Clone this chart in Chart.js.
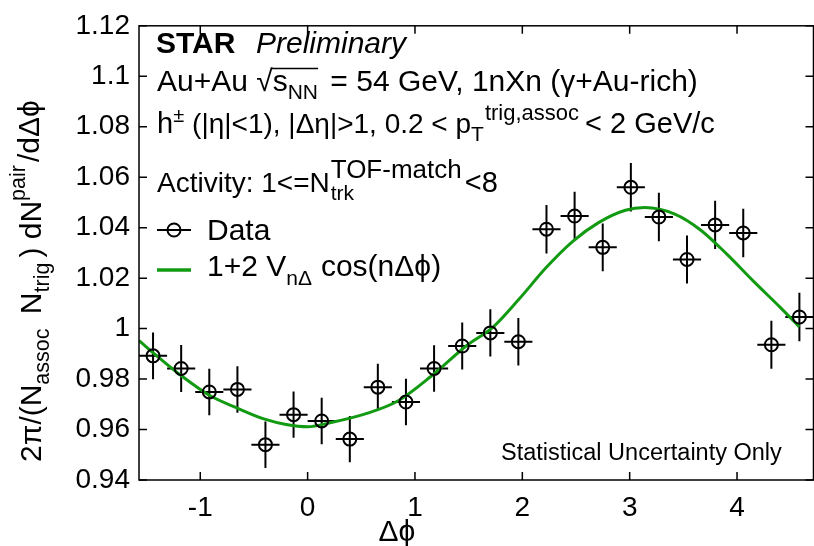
<!DOCTYPE html>
<html>
<head>
<meta charset="utf-8">
<script src="https://cdn.jsdelivr.net/npm/chart.js@4.4.1/dist/chart.umd.min.js"></script>
<style>
  html, body { margin: 0; padding: 0; background: #fff; overflow: hidden; }
  #wrap { width: 822px; height: 546px; }
</style>
</head>
<body>
<div id="wrap"><canvas id="c" width="822" height="546"></canvas></div>
<script>
// ---- data ----
const binCenters = [-1.440, -1.178, -0.916, -0.654, -0.393, -0.131, 0.131, 0.393, 0.654, 0.916, 1.178, 1.440,
                    1.702, 1.963, 2.225, 2.487, 2.749, 3.011, 3.272, 3.534, 3.796, 4.058, 4.320, 4.581];
const dataValues = [0.9892, 0.9842, 0.9749, 0.9759, 0.9540, 0.9659, 0.9634, 0.9562, 0.9768, 0.9709, 0.9842, 0.9931,
                    0.9983, 0.9948, 1.0394, 1.0446, 1.0322, 1.0560, 1.0442, 1.0274, 1.0411, 1.0379, 0.9936, 1.0046];
const dataErrors = [0.0093, 0.0093, 0.0092, 0.0092, 0.0092, 0.0092, 0.0092, 0.0092, 0.0093, 0.0092, 0.0092, 0.0093,
                    0.0094, 0.0094, 0.0096, 0.0096, 0.0095, 0.0096, 0.0096, 0.0095, 0.0096, 0.0096, 0.0095, 0.0096];
const binHalfWidths = [0.131, 0.131, 0.131, 0.131, 0.131, 0.131, 0.131, 0.131, 0.131, 0.131, 0.131, 0.131,
                       0.131, 0.131, 0.131, 0.131, 0.131, 0.131, 0.131, 0.131, 0.131, 0.131, 0.131, 0.131];
const fitX = [-1.57, -1.38, -1.17, -0.92, -0.65, -0.40, -0.20, 0.00, 0.22, 0.53, 0.84, 1.15, 1.48,
              1.73, 1.97, 2.22, 2.47, 2.71, 2.96, 3.14, 3.42, 3.66, 3.91, 4.15, 4.40, 4.58];
const fitY = [0.9952, 0.9883, 0.9811, 0.9737, 0.9684, 0.9641, 0.9620, 0.9611, 0.9628, 0.9661, 0.9713, 0.9811, 0.9932,
              1.0007, 1.0117, 1.0241, 1.0346, 1.0420, 1.0469, 1.0480, 1.0454, 1.0391, 1.0293, 1.0189, 1.0085, 1.0007];
const xTickValues = [-1, 0, 1, 2, 3, 4];
const yTickValues = [0.94, 0.96, 0.98, 1.00, 1.02, 1.04, 1.06, 1.08, 1.10, 1.12];
const xRange = [-Math.PI / 2, 3 * Math.PI / 2];
const yRange = [0.94, 1.12];

const FAM = '"Liberation Sans", Arial, Helvetica, sans-serif';
const GREEN = '#129a12';

// draws a run of text pieces; each piece: t, size, dy, x (optional anchor), gap, style
function richText(ctx, x, y, segs) {
  let cx = x;
  const pos = [];
  for (const s of segs) {
    if (s.x !== undefined) cx = s.x;
    ctx.font = `${s.style || ''} ${s.size}px ${FAM}`;
    ctx.fillText(s.t, cx, y + (s.dy || 0));
    const w = ctx.measureText(s.t).width;
    pos.push([cx, cx + w]);
    if (!s.noAdvance) cx += w + (s.gap || 0);
  }
  return pos;
}

const framePlugin = {
  id: 'frame',
  afterDatasetsDraw(chart) {
    const { ctx, chartArea: a, scales: { x, y } } = chart;
    ctx.save();
    ctx.strokeStyle = '#000';
    ctx.lineWidth = 1.5;
    ctx.strokeRect(a.left, a.top, a.right - a.left, a.bottom - a.top);
    const tl = 8;
    ctx.beginPath();
    xTickValues.forEach(v => {
      const px = x.getPixelForValue(v);
      ctx.moveTo(px, a.bottom); ctx.lineTo(px, a.bottom - tl);
      ctx.moveTo(px, a.top); ctx.lineTo(px, a.top + tl);
    });
    yTickValues.forEach(v => {
      const py = y.getPixelForValue(v);
      ctx.moveTo(a.left, py); ctx.lineTo(a.left + tl, py);
      ctx.moveTo(a.right, py); ctx.lineTo(a.right - tl, py);
    });
    ctx.stroke();
    ctx.restore();
  }
};

const errorBarPlugin = {
  id: 'errbars',
  beforeDatasetsDraw(chart) {
    const { ctx, scales: { x, y } } = chart;
    ctx.save();
    ctx.strokeStyle = '#000';
    ctx.lineWidth = 2;
    ctx.beginPath();
    binCenters.forEach((cx, i) => {
      const px = x.getPixelForValue(cx);
      const py = y.getPixelForValue(dataValues[i]);
      ctx.moveTo(x.getPixelForValue(cx - binHalfWidths[i]), py);
      ctx.lineTo(x.getPixelForValue(cx + binHalfWidths[i]), py);
      ctx.moveTo(px, y.getPixelForValue(dataValues[i] - dataErrors[i]));
      ctx.lineTo(px, y.getPixelForValue(dataValues[i] + dataErrors[i]));
    });
    ctx.stroke();
    ctx.restore();
  }
};

const textPlugin = {
  id: 'texts',
  afterDraw(chart) {
    const { ctx } = chart;
    ctx.save();
    ctx.fillStyle = '#000';
    ctx.textBaseline = 'alphabetic';
    ctx.textAlign = 'left';
    // header
    ctx.font = `bold 30px ${FAM}`;
    ctx.fillText('STAR', 156, 53);
    ctx.font = `italic 30px ${FAM}`;
    ctx.fillText('Preliminary', 256, 53);

    const p = richText(ctx, 157, 91, [
      { t: 'Au+Au ', size: 30 },
      { t: '\u221A', size: 30 },
      { t: 's', size: 30 },
      { t: 'NN', size: 21, dy: 8, gap: 4 },
      { t: ' = 54 GeV, 1nXn (\u03B3+Au-rich)', size: 30 }
    ]);
    // overline of the root sign
    ctx.strokeStyle = '#000';
    ctx.lineWidth = 1.3;
    ctx.beginPath();
    ctx.moveTo(p[1][1] - 1, 68.5); ctx.lineTo(p[3][1], 68.5);
    ctx.stroke();

    richText(ctx, 157, 133, [
      { t: 'h', size: 29 },
      { t: '\u00B1', size: 20, dy: -11, gap: 8 },
      { t: '(|\u03B7|<1), |\u0394\u03B7|>1, 0.2 < p', size: 28 },
      { t: 'T', size: 21, dy: 8, gap: 1 },
      { t: 'trig,assoc', size: 22, dy: -13, gap: 6 },
      { t: '< 2 GeV/c', size: 29 }
    ]);

    const q = richText(ctx, 157, 192, [
      { t: 'Activity: 1<=N', size: 28 }
    ]);
    const nEnd = q[0][1] + 1;
    ctx.font = `21px ${FAM}`;
    ctx.fillText('trk', nEnd, 200);
    ctx.font = `26px ${FAM}`;
    ctx.fillText('TOF-match', nEnd, 178);
    const supEnd = nEnd + ctx.measureText('TOF-match').width;
    ctx.font = `29px ${FAM}`;
    ctx.fillText('<8', supEnd + 3, 192);

    // legend
    ctx.strokeStyle = '#000';
    ctx.lineWidth = 2;
    ctx.beginPath();
    ctx.moveTo(157, 230); ctx.lineTo(191, 230);
    ctx.stroke();
    ctx.beginPath();
    ctx.arc(174, 230, 6.5, 0, Math.PI * 2);
    ctx.stroke();
    ctx.font = `30px ${FAM}`;
    ctx.fillText('Data', 207, 240);
    ctx.strokeStyle = GREEN;
    ctx.lineWidth = 3.5;
    ctx.beginPath();
    ctx.moveTo(157, 270); ctx.lineTo(191, 270);
    ctx.stroke();
    richText(ctx, 207, 276, [
      { t: '1+2 V', size: 30 },
      { t: 'n\u0394', size: 21, dy: 9, gap: 9 },
      { t: 'cos(n\u0394\u03D5)', size: 30 }
    ]);
    // note
    ctx.font = `23.5px ${FAM}`;
    ctx.fillText('Statistical Uncertainty Only', 501, 460);
    // x title
    ctx.font = `30px ${FAM}`;
    ctx.textAlign = 'center';
    ctx.fillText('\u0394\u03D5', 397, 541);
    ctx.textAlign = 'left';
    // y title (rotated)
    ctx.translate(41, 462);
    ctx.rotate(-Math.PI / 2);
    richText(ctx, 0, 0, [
      { t: '2\u03C0/(N', size: 30 },
      { t: 'assoc', size: 21.5, dy: 8, gap: 6 },
      { t: ' N', size: 30 },
      { t: 'trig', size: 21.5, dy: 8, gap: 5 },
      { t: ') dN', size: 30 },
      { t: 'pair', size: 21.5, dy: -16, gap: 3 },
      { t: '/d\u0394\u03D5', size: 30, dy: -2 }
    ]);
    ctx.restore();
  }
};

new Chart(document.getElementById('c'), {
  type: 'scatter',
  data: {
    datasets: [
      {
        label: 'Data',
        data: binCenters.map((v, i) => ({ x: v, y: dataValues[i] })),
        pointStyle: 'circle',
        pointRadius: 6.5,
        pointBorderWidth: 2,
        borderColor: '#000',
        backgroundColor: 'rgba(0,0,0,0)',
        showLine: false,
        order: 1
      },
      {
        label: '1+2 VnΔ cos(nΔφ)',
        type: 'line',
        data: fitX.map((v, i) => ({ x: v, y: fitY[i] })),
        borderColor: GREEN,
        borderWidth: 3,
        pointRadius: 0,
        cubicInterpolationMode: 'monotone',
        fill: false,
        order: 2
      }
    ]
  },
  options: {
    responsive: false,
    animation: false,
    devicePixelRatio: 1,
    layout: { padding: { left: 0, right: 1, top: 20, bottom: 0 } },
    plugins: { legend: { display: false }, tooltip: { enabled: false } },
    scales: {
      x: {
        type: 'linear',
        min: xRange[0], max: xRange[1],
        afterBuildTicks: s => { s.ticks = xTickValues.map(v => ({ value: v })); },
        afterFit: s => { s.height = 66; },
        grid: { display: false, drawTicks: false },
        border: { display: false },
        ticks: { color: '#000', font: { size: 28, family: FAM }, padding: 11, maxRotation: 0, autoSkip: false,
                 callback: v => String(v) }
      },
      y: {
        type: 'linear',
        min: yRange[0], max: yRange[1],
        afterBuildTicks: s => { s.ticks = yTickValues.map(v => ({ value: v })); },
        afterFit: s => { s.width = 139; },
        grid: { display: false, drawTicks: false },
        border: { display: false },
        ticks: { color: '#000', font: { size: 28, family: FAM }, padding: 9, autoSkip: false,
                 callback: v => String(parseFloat(v.toFixed(2))) }
      }
    }
  },
  plugins: [errorBarPlugin, framePlugin, textPlugin]
});
</script>
</body>
</html>
